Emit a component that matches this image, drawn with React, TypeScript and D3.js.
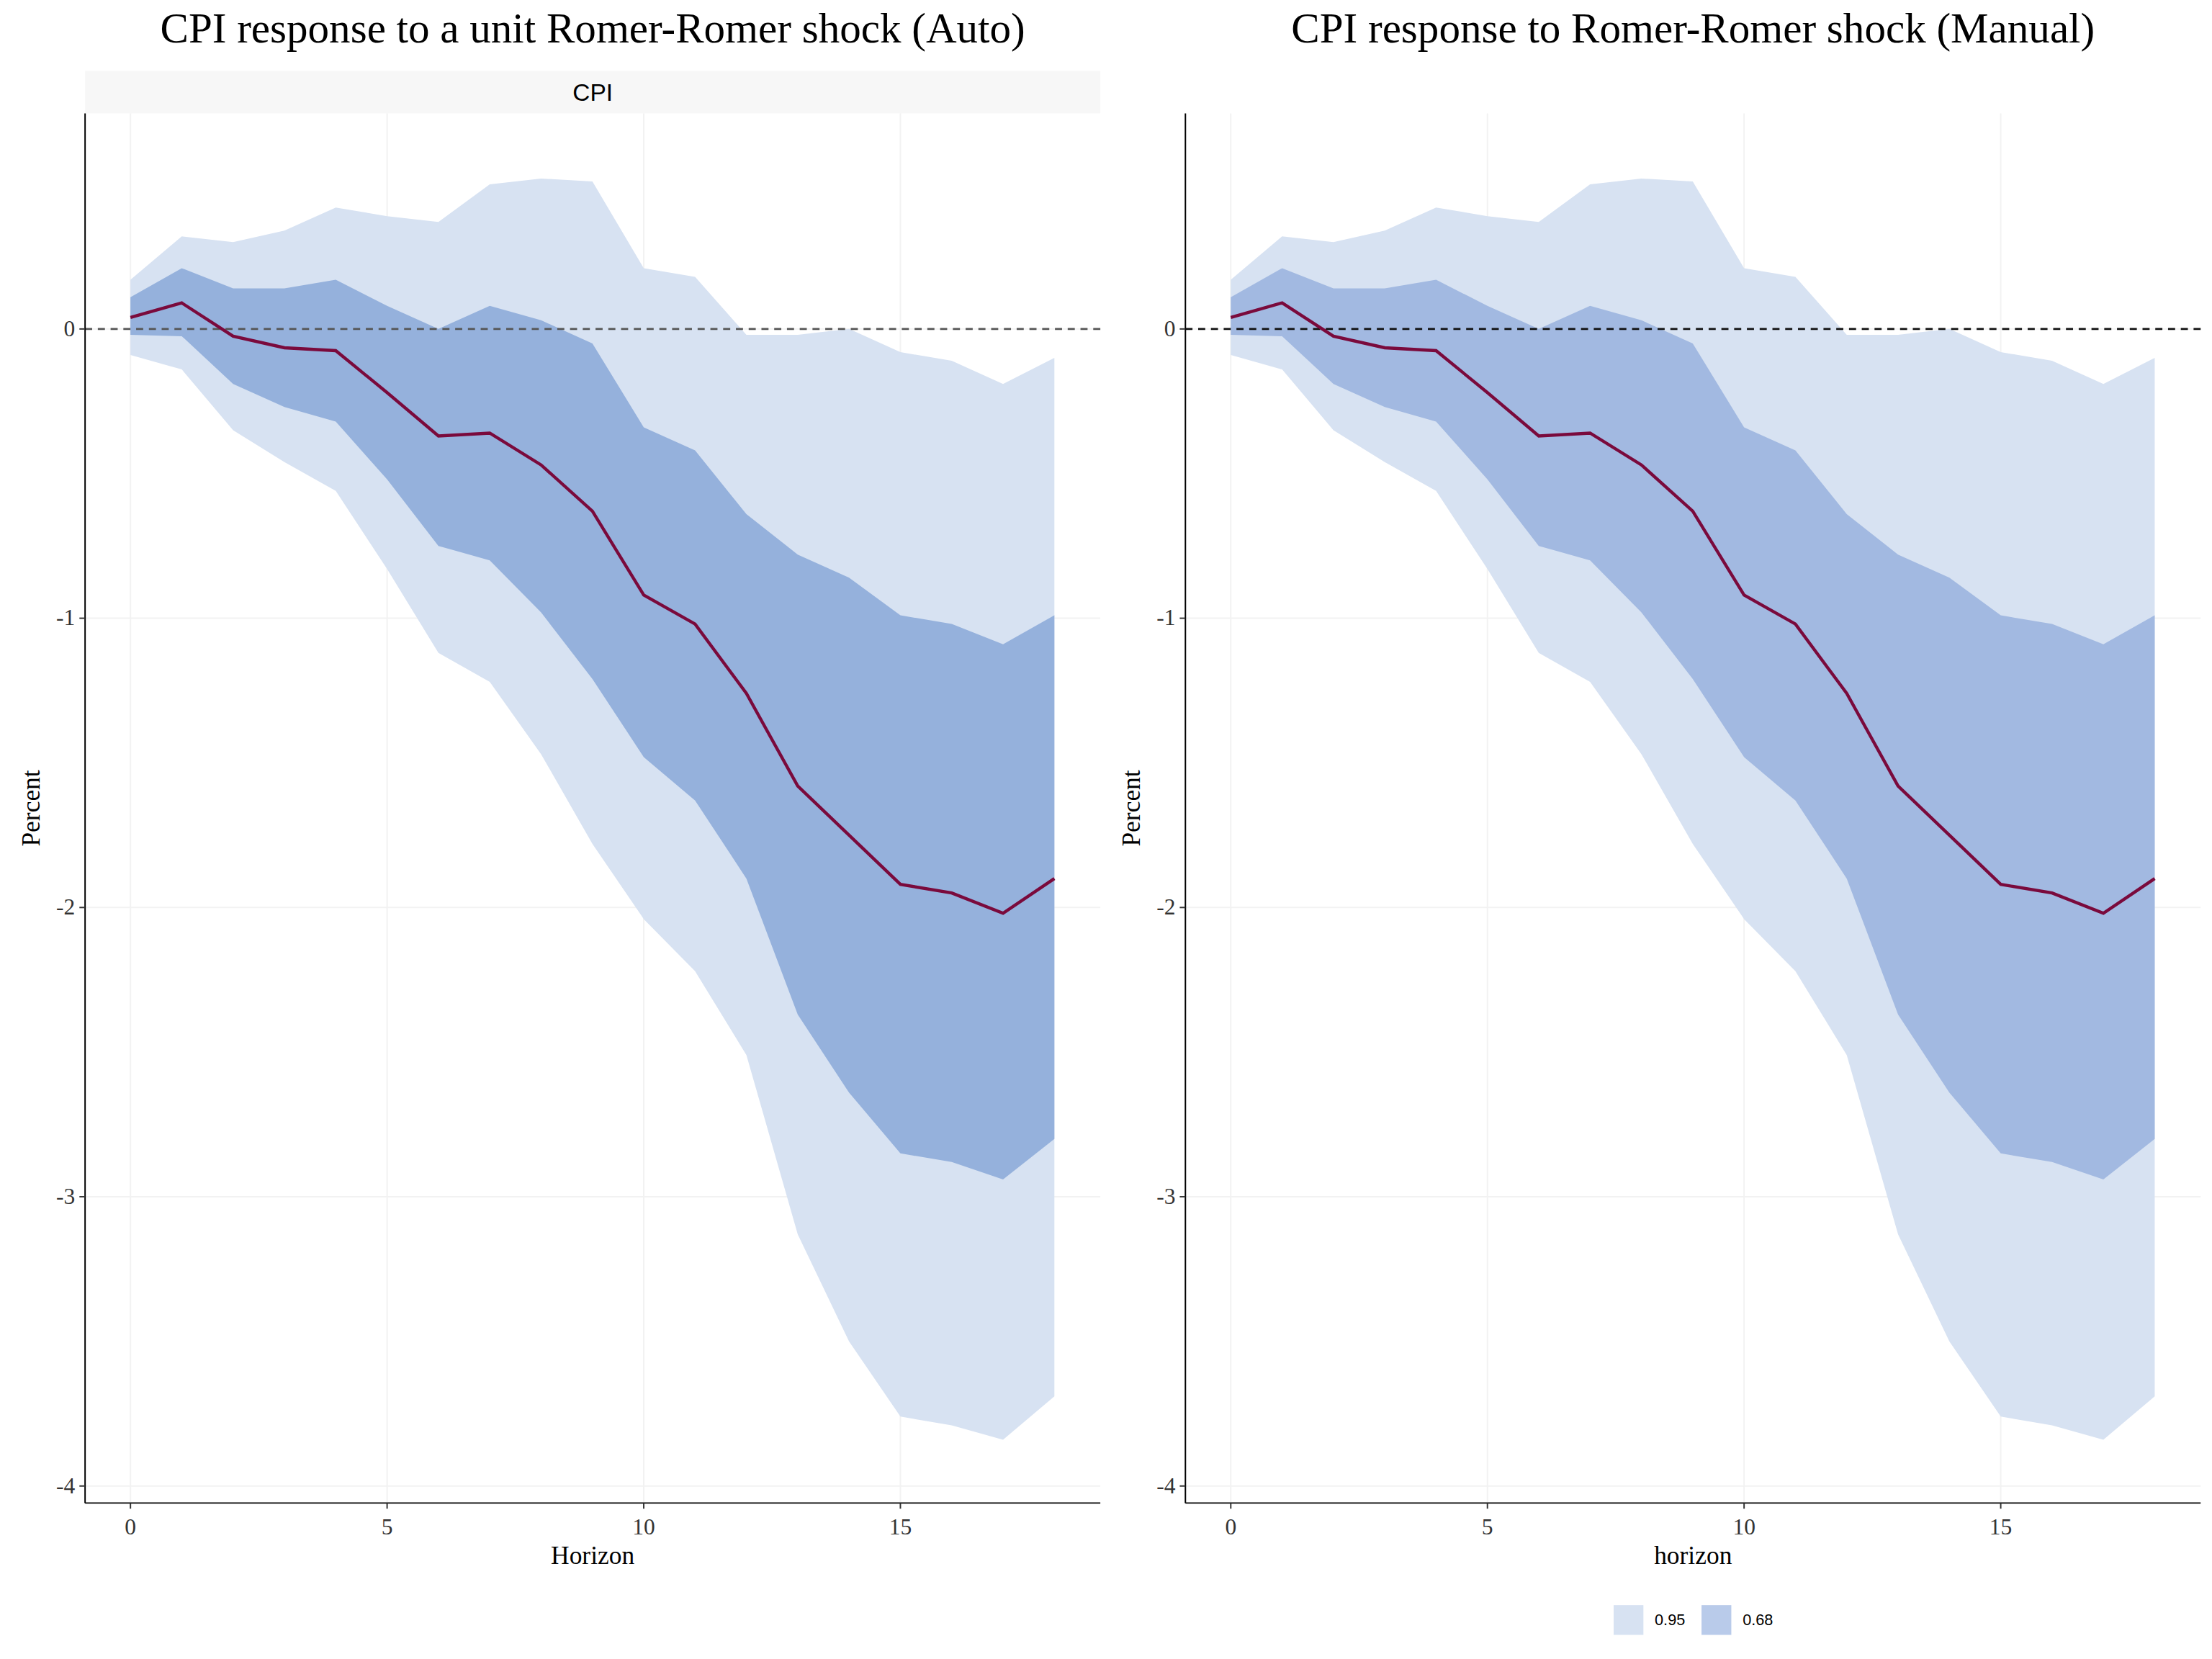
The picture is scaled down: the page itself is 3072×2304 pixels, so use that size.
import React from "react";
import * as d3 from "d3";

const horizon = d3.range(0, 19);
const median = [0.04, 0.09, -0.025, -0.065, -0.075, -0.22, -0.37, -0.36, -0.47, -0.63, -0.92, -1.02, -1.26, -1.58, -1.75, -1.92, -1.95, -2.02, -1.9];
const up68 = [0.11, 0.21, 0.14, 0.14, 0.17, 0.08, 0.0, 0.08, 0.03, -0.05, -0.34, -0.42, -0.64, -0.78, -0.86, -0.99, -1.02, -1.09, -0.99];
const lo68 = [-0.02, -0.025, -0.19, -0.27, -0.32, -0.52, -0.75, -0.8, -0.98, -1.21, -1.48, -1.63, -1.9, -2.37, -2.64, -2.85, -2.88, -2.94, -2.8];
const up95 = [0.17, 0.32, 0.3, 0.34, 0.42, 0.39, 0.37, 0.5, 0.52, 0.51, 0.21, 0.18, -0.02, -0.02, 0.0, -0.08, -0.11, -0.19, -0.1];
const lo95 = [-0.09, -0.14, -0.35, -0.46, -0.56, -0.83, -1.12, -1.22, -1.47, -1.78, -2.04, -2.22, -2.51, -3.13, -3.5, -3.76, -3.79, -3.84, -3.69];
const xTicks = [0, 5, 10, 15];
const yTicks = [0, -1, -2, -3, -4];
const legendItems = ["0.95", "0.68"];

const serif = "'Liberation Serif', 'DejaVu Serif', serif";
const sans = "'Liberation Sans', Arial, sans-serif";

function Panel({ x0, title, xlab, strip, c68, zeroColor }: any) {
  const left = x0, right = x0 + 716, top = 80, bottom = 1060;
  const x = d3.scaleLinear().domain([0, 15]).range([left + 32, left + 32 + 543]);
  const y = d3.scaleLinear().domain([0, -4]).range([232, 1048]);
  const area = (lo: number[], hi: number[]) =>
    d3.area<number>().x((d) => x(d)).y0((d) => y(lo[d])).y1((d) => y(hi[d]))(horizon) || "";
  const line = d3.line<number>().x((d) => x(d)).y((d) => y(median[d]))(horizon) || "";
  return (
    <g>
      <text x={(left + right) / 2} y={30} textAnchor="middle" fontFamily={serif} fontSize={30}>{title}</text>
      {strip && (
        <g>
          <rect x={left} y={50} width={716} height={30} fill="#f7f7f7" />
          <text x={(left + right) / 2} y={71} textAnchor="middle" fontFamily={sans} fontSize={17}>{strip}</text>
        </g>
      )}
      {xTicks.map((t) => <line key={"gx" + t} x1={x(t)} x2={x(t)} y1={top} y2={bottom} stroke="#f2f2f2" strokeWidth={1} />)}
      {yTicks.map((t) => <line key={"gy" + t} x1={left} x2={right} y1={y(t)} y2={y(t)} stroke="#f2f2f2" strokeWidth={1} />)}
      <path d={area(lo95, up95)} fill="#d7e2f2" />
      <path d={area(lo68, up68)} fill={c68} />
      <line x1={left} x2={right} y1={y(0)} y2={y(0)} stroke={zeroColor} strokeWidth={1.4} strokeDasharray="5,4" />
      <path d={line} fill="none" stroke="#7a0a3c" strokeWidth={2.2} />
      <line x1={left} x2={left} y1={top} y2={bottom} stroke="#000" strokeWidth={1} />
      <line x1={left} x2={right} y1={bottom} y2={bottom} stroke="#000" strokeWidth={1} />
      {xTicks.map((t) => (
        <g key={"tx" + t}>
          <line x1={x(t)} x2={x(t)} y1={bottom} y2={bottom + 4} stroke="#333" />
          <text x={x(t)} y={bottom + 22} textAnchor="middle" fontFamily={serif} fontSize={16} fill="#333">{t}</text>
        </g>
      ))}
      {yTicks.map((t) => (
        <g key={"ty" + t}>
          <line x1={left - 4} x2={left} y1={y(t)} y2={y(t)} stroke="#333" />
          <text x={left - 7} y={y(t) + 5} textAnchor="end" fontFamily={serif} fontSize={16} fill="#333">{t}</text>
        </g>
      ))}
      <text x={(left + right) / 2} y={1103} textAnchor="middle" fontFamily={serif} fontSize={18}>{xlab}</text>
      <text transform={`translate(${left - 32},570) rotate(-90)`} textAnchor="middle" fontFamily={serif} fontSize={18}>Percent</text>
    </g>
  );
}

export default function App() {
  const legendColors = ["#d7e2f2", "#b9cbea"];
  return (
    <svg width={3072} height={2304} viewBox="0 0 1560 1170" style={{ position: "absolute", left: 0, top: 0, background: "#fff" }}>
      <rect width={1560} height={1170} fill="#fff" />
      <Panel x0={60} title="CPI response to a unit Romer-Romer shock (Auto)" xlab="Horizon" strip="CPI" c68="#95b1dc" zeroColor="#555" />
      <Panel x0={836} title="CPI response to Romer-Romer shock (Manual)" xlab="horizon" c68="#a2b9e1" zeroColor="#111" />
      {legendItems.map((l, i) => (
        <g key={l}>
          <rect x={1138 + i * 62} y={1132} width={21} height={21} fill={legendColors[i]} />
          <text x={1167 + i * 62} y={1146} fontFamily={sans} fontSize={11}>{l}</text>
        </g>
      ))}
    </svg>
  );
}
